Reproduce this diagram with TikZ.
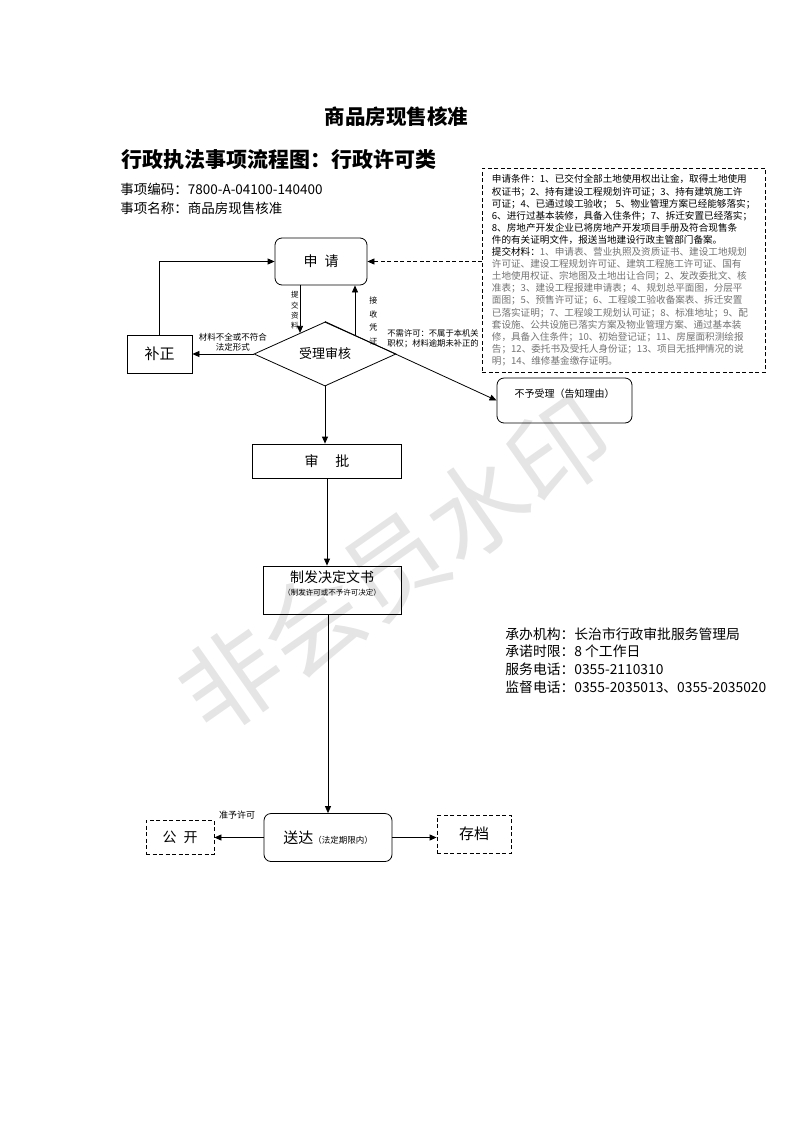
\documentclass[tikz,border=0pt]{standalone}
\usepackage{fontspec}
\setmainfont{Noto Sans CJK SC}
\usetikzlibrary{arrows.meta, positioning, shapes.geometric, calc}
\XeTeXlinebreaklocale "zh"
\XeTeXlinebreakskip=0pt plus 3pt
\newcommand{\setfs}[1]{\fontsize{#1}{#1}\selectfont}
\newcommand{\jline}[1]{\makebox[264pt][s]{#1}\\}
\newcommand{\gline}[1]{\makebox[264pt][s]{\color{black!55}#1}\\}

\begin{document}
\begin{tikzpicture}[x=1pt, y=-1pt, line width=0.8pt,
    box/.style={draw, rectangle, inner sep=0pt, font=\setfs{14}},
    roundbox/.style={box, rounded corners=7pt},
    dashbox/.style={box, dash pattern=on 4pt off 2.5pt},
    arr/.style={-{Triangle[length=7pt,width=6pt]}},
    vlabel/.style={align=center, inner sep=1pt},
    note/.style={inner sep=1pt, align=left}]
\useasboundingbox (0,0) rectangle (793,1122);
\node[rotate=35, text=black!10, font=\setfs{100}] (mark) at (395,565) {非会员水印};
\node[font=\setfs{20.5}\bfseries] (title) at (396.5,117) {商品房现售核准};
\node[font=\setfs{21}\bfseries, anchor=west, inner sep=0pt] (kind) at (121,160) {行政执法事项流程图：行政许可类};
\node[note, anchor=north west, font=\fontsize{13.5}{19}\selectfont] (meta) at (119,182) {事项编码：7800-A-04100-140400\\事项名称：商品房现售核准};
\node[note, anchor=north west, font=\fontsize{13.8}{17.8}\selectfont] (info) at (504,626) {承办机构：长治市行政审批服务管理局\\承诺时限：8 个工作日\\服务电话：0355-2110310\\监督电话：0355-2035013、0355-2035020};
% flow boxes
\node[roundbox, minimum width=92pt, minimum height=47pt] (apply) at (321,261.5) {申\hspace{0.5em}请};
\node[box, minimum width=65pt, minimum height=38pt, font=\setfs{15}] (fix) at (159.5,354) {补正};
\node[box, diamond, minimum width=142pt, minimum height=55pt, font=\setfs{13}] (accept) at (325,354) {受理审核};
\node[roundbox, minimum width=135pt, minimum height=45pt, font=\setfs{10}, text height=8.5pt, text depth=15.5pt] (refuse) at (564.5,400.5) {不予受理（告知理由）};
\node[box, minimum width=149pt, minimum height=34pt] (approve) at (327,461) {审\hspace{1.2em}批};
\node[box, minimum width=138pt, minimum height=48pt, align=center, font=\fontsize{14}{12.6}\selectfont, text height=12.3pt, text depth=1.7pt] (issue) at (332,590) {制发决定文书\\{\setfs{7.5}（制发许可或不予许可决定）}};
\node[roundbox, minimum width=128pt, minimum height=48pt, font=\setfs{15}] (deliver) at (328,837.5) {送达{\setfs{8.5}（法定期限内）}};
\node[dashbox, minimum width=68pt, minimum height=34pt] (public) at (180,837) {公\hspace{0.5em}开};
\node[dashbox, minimum width=74pt, minimum height=38pt, font=\setfs{15}] (archive) at (474,834) {存档};
\node[note, anchor=north west, font=\fontsize{8.3}{10}\selectfont] (nolic) at (386,328) {不需许可：不属于本机关\\职权；材料逾期未补正的};
% conditions and materials
\node[box, dash pattern=on 4pt off 2.5pt, fill=white, anchor=north west, text width=264pt, minimum height=204pt, inner xsep=9.5pt, inner ysep=0pt, align=left, font=\fontsize{9.6}{12.1}\selectfont] (cond) at (482,168) {%
\jline{申请条件：1、已交付全部土地使用权出让金，取得土地使用}
\jline{权证书；2、持有建设工程规划许可证；3、持有建筑施工许}
\jline{可证；4、已通过竣工验收； 5、物业管理方案已经能够落实；}
\jline{6、进行过基本装修，具备入住条件；7、拆迁安置已经落实；}
\jline{8、房地产开发企业已将房地产开发项目手册及符合现售条}
件的有关证明文件，报送当地建设行政主管部门备案。\\
\jline{提交材料：{\color{black!55}1、申请表、营业执照及资质证书、建设工地规划}}
\gline{许可证、建设工程规划许可证、建筑工程施工许可证、国有}
\gline{土地使用权证、宗地图及土地出让合同；2、发改委批文、核}
\gline{准表；3、建设工程报建申请表；4、规划总平面图，分层平}
\gline{面图；5、预售许可证；6、工程竣工验收备案表、拆迁安置}
\gline{已落实证明；7、工程竣工规划认可证；8、标准地址；9、配}
\gline{套设施、公共设施已落实方案及物业管理方案、通过基本装}
\gline{修，具备入住条件；10、初始登记证；11、房屋面积测绘报}
\gline{告；12、委托书及受托人身份证；13、项目无抵押情况的说}
{\color{black!55}明；14、维修基金缴存证明。}};
% connectors
\coordinate (in1) at ($(accept.west)!0.65!(accept.north)$);
\coordinate (out1) at ($(accept.north)!0.42!(accept.east)$);
\draw[arr] (fix.north) |- (apply.west);
\draw[arr, dash pattern=on 4pt off 2.5pt] (apply.east -| cond.west) -- (apply.east);
\draw[arr] (in1 |- apply.south) -- node[vlabel, left, pos=0.53, font=\fontsize{7.5}{10.3}\selectfont] {提\\交\\资\\料} (in1);
\draw[arr] (out1) -- node[vlabel, right=13pt, pos=0.29, font=\fontsize{8}{13.7}\selectfont] {接\\收\\凭\\证} (out1 |- apply.south);
\draw[arr] (accept.west) -- node[note, above, pos=0.34, yshift=1pt, align=center, font=\fontsize{8.5}{10}\selectfont] {材料不全或不符合\\法定形式} (accept.west -| fix.east);
\draw[arr] (accept.north) -- (refuse.west);
\draw[arr] (accept.south) -- (accept.south |- approve.north);
\draw[arr] (approve.south) -- (approve.south |- issue.north);
\draw[arr] (issue.south -| deliver.north) -- (deliver.north);
\draw[arr] (deliver.west) -- node[note, above, pos=0.54, yshift=17pt, font=\setfs{9}] {准予许可} (deliver.west -| public.east);
\draw[arr] (deliver.east) -- (deliver.east -| archive.west);
\end{tikzpicture}
\end{document}
